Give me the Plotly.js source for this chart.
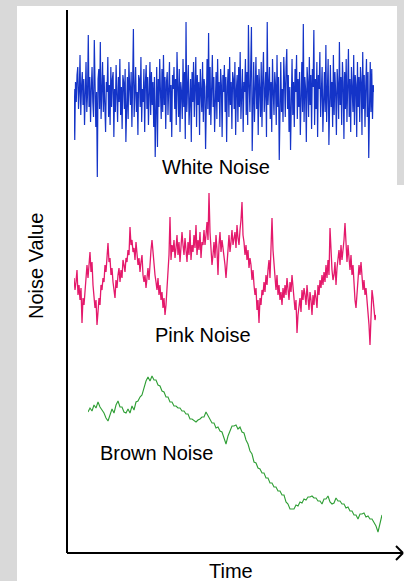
<!DOCTYPE html>
<html>
<head>
<meta charset="utf-8">
<script src="https://cdn.plot.ly/plotly-3.0.1.min.js"></script>
<style>html,body{margin:0;padding:0;background:#d9d9d9;}#chart{width:404px;height:581px;}</style>
</head>
<body>
<div id="chart"></div>
<script>
// ---- Data (noise values) ----
var whiteNoise = [
  8, -43, 15, -5, 22, 30, -12, 5, 42, -18, 10, 25, -8, 18, -28, 12, 35, -15, 3, 62,
  -10, 20, -25, 8, 30, -5, -20, 57, 12, -30, 5, -80, 18, 28, -12, 55, -22, 10, 35, -15,
  22, -8, -35, 15, 5, 40, -20, 12, -28, 30, -10, 18, 25, -40, 8, -15, 32, 2, -25, 20,
  -5, 38, -18, 10, -32, 22, 15, -12, 28, -45, 5, 20, -22, 35, 10, -8, 25, -30, 15, 68,
  -20, 12, 30, -15, 5, -38, 22, 18, -10, 40, -25, 8, -5, 28, -35, 15, 32, -12, 20, -28,
  10, 35, -18, 25, -8, 15, -30, 20, -60, 12, 30, -50, 18, -10, 38, 5, -22, 28, -15, 42,
  -8, 20, -32, 15, 25, -18, 5, 35, -25, 12, -40, 22, 8, 30, -12, 18, -28, 45, 10, -20,
  28, -35, 15, 5, -22, 38, -10, 25, -42, 75, -15, 20, 32, -28, 10, 18, -45, 25, -5, 35,
  -20, 12, 40, -30, 22, -8, 15, -38, 28, 5, -15, 35, -25, 18, 10, -52, 25, 38, -12, 64,
  -18, 30, -28, 15, 42, -10, 20, -35, 8, 25, -22, 38, -5, 15, -30, 28, 12, -40, 22, 5,
  32, -15, 20, -45, 10, 28, -20, 40, -8, 15, -32, 25, 18, -12, 35, -38, 8, 22, -25, 30,
  -10, 45, -22, 12, 28, -35, 15, 5, 38, -18, 25, -28, 72, 10, -15, 30, 70, -54, 20, 35,
  -25, 15, 40, -12, 22, -38, 28, 8, -20, 35, -30, 18, 45, -15, 10, 25, -40, 75, -8, 20,
  30, -22, 15, -35, 38, 5, -18, 25, 12, -28, 42, -10, 20, -63, 28, 35, -15, 8, -25, 40,
  15, -20, 30, 48, -12, 22, -35, 10, -53, 25, 38, -18, 15, -30, 28, 5, 42, -22, 18, -10,
  25, -38, 12, 35, -15, 73, -25, 20, 8, -45, 30, 15, -20, 40, -8, 22, -32, 28, 10, 67,
  -28, 18, -12, 35, -40, 22, 8, 45, -20, 15, 30, -35, 12, 25, -15, 52, -25, 10, 38, -48,
  20, 32, -10, 15, -30, 42, -18, 25, 5, -38, 28, 12, -22, 55, -8, 20, -28, 35, 15, -42,
  25, -12, 38, -25, 10, 48, -20, 18, -35, 30, 8, -15, 42, -28, 22, 12, -40, 35, -10, 20,
  -25, 30, 15, -38, 45, -12, 22, -30, 10, 38, -20, 25, -61, 18, 35, -15, 28, -22, 12, 5
];
var pinkNoise = [
  -8, -20, -12, 0, -25, -15, -30, -18, -53, -28,
  -35, -20, -10, 5, -8, 10, 18, -2, 8, -15,
  -25, -38, -30, -55, -42, -28, -35, -15, -20, -8,
  -12, 5, -2, 15, 27, 8, 12, -5, 2, -12,
  -20, -28, -10, -18, -5, 2, -12, 0, -8, 10,
  5, -2, 12, 8, 20, 15, 43, 25, 30, 18,
  22, 10, 28, 15, 5, 12, -2, 8, 15, -5,
  -12, -5, -18, -8, 2, -10, 12, 20, 30, 15,
  8, -5, -12, -20, -8, -25, -15, -30, -22, -38,
  -28, -45, -35, -20, -5, 15, 53, 10, 25, 18,
  30, 12, 22, 35, 15, 28, 8, 20, 38, 25,
  15, 32, 22, 8, 28, 15, 40, 10, 25, 18,
  35, 22, 45, 15, 30, 20, 38, 12, 28, 25,
  40, 25, 35, 48, 30, 77, 38, 20, 5, 15,
  28, 12, 35, 20, -5, 25, 38, 18, 30, 22,
  15, 5, -8, 12, 20, 35, 18, 28, 40, 25,
  30, 38, 22, 45, 32, 25, 40, 50, 68, 35,
  28, 15, 25, 10, 20, 2, 12, 5, -10, 0,
  -15, -25, -18, -40, -30, -53, -28, -35, -20, -25,
  -12, -22, -5, -15, 0, 10, -8, 15, 52, 20,
  5, -10, -20, -5, -25, -15, -30, -22, -35, -18,
  -28, -15, -25, -8, -20, -30, -12, -22, -5, -18,
  -25, -40, -30, -63, -45, -35, -28, -42, -20, -30,
  -18, -25, -35, -15, -28, -40, -22, -30, -45, -25,
  -35, -20, -28, -38, -15, -25, -10, -18, -5, -15,
  -2, -12, 5, -8, 10, -5, 42, 12, 0, -10,
  -5, 8, -15, 2, 12, 20, 5, 25, 10, 18,
  30, 47, 20, 8, 25, 12, 0, 15, -5, 5,
  -20, -30, -38, -18, -10, 5, -5, 8, -12, -20,
  -10, -25, -18, -30, -35, -55, -75, -42, -20, -28,
  -38, -50, -45
];
var brownNoise = [
  43, 47, 44, 50, 47, 53, 48, 45, 42, 37,
  34, 40, 46, 42, 50, 54, 48, 48, 43, 42,
  46, 42, 49, 45, 53, 54, 58, 60, 67, 74,
  78, 74, 79, 75, 75, 70, 69, 64, 63, 58,
  58, 53, 53, 49, 49, 47, 47, 44, 44, 41,
  41, 36, 36, 34, 33, 35, 36, 38, 38, 43,
  39, 36, 32, 32, 27, 28, 24, 23, 16, 11,
  19, 24, 29, 29, 30, 26, 28, 23, 22, 15,
  11, 4, 1, -7, -8, -13, -14, -18, -18, -23,
  -23, -28, -28, -32, -32, -36, -36, -40, -40, -47,
  -49, -54, -54, -54, -50, -51, -47, -48, -44, -45,
  -42, -42, -41, -43, -43, -46, -46, -49, -44, -44,
  -41, -47, -49, -48, -43, -46, -46, -49, -49, -53,
  -52, -56, -56, -60, -60, -64, -59, -59, -58, -62,
  -61, -64, -64, -68, -71, -77, -67, -60
];
var seriesLabels = ["White Noise", "Pink Noise", "Brown Noise"];
var xAxisLabel = "Time";
var yAxisLabel = "Noise Value";

// ---- Layout helpers (pixel -> paper) ----
var W = 404, H = 581;
function px(x) { return x / W; }
function py(y) { return 1 - y / H; }
function idx(arr) { return arr.map(function (_, i) { return i; }); }

var traces = [
  { x: idx(whiteNoise), y: whiteNoise, xaxis: 'x', yaxis: 'y', type: 'scatter', mode: 'lines',
    line: { color: '#1434c8', width: 1.2 }, hoverinfo: 'skip' },
  { x: idx(pinkNoise), y: pinkNoise, xaxis: 'x2', yaxis: 'y2', type: 'scatter', mode: 'lines',
    line: { color: '#e4196b', width: 1.3 }, hoverinfo: 'skip' },
  { x: idx(brownNoise), y: brownNoise, xaxis: 'x3', yaxis: 'y3', type: 'scatter', mode: 'lines',
    line: { color: '#2e9e34', width: 1.1 }, hoverinfo: 'skip' }
];

function hiddenAxis(domain, range, anchor) {
  return { domain: domain, range: range, visible: false, fixedrange: true, anchor: anchor };
}

var font = { family: 'Liberation Sans, Arial, sans-serif', size: 20, color: '#000' };

var layout = {
  width: W, height: H,
  margin: { l: 0, r: 0, t: 0, b: 0 },
  paper_bgcolor: '#d9d9d9',
  plot_bgcolor: 'rgba(0,0,0,0)',
  showlegend: false,
  xaxis: hiddenAxis([px(74), px(374)], [0, whiteNoise.length - 1], 'y'),
  yaxis: hiddenAxis([py(177), py(17)], [-80, 80], 'x'),
  xaxis2: hiddenAxis([px(74), px(376)], [0, pinkNoise.length - 1], 'y2'),
  yaxis2: hiddenAxis([py(350), py(190)], [-80, 80], 'x2'),
  xaxis3: hiddenAxis([px(88), px(382)], [0, brownNoise.length - 1], 'y3'),
  yaxis3: hiddenAxis([py(540), py(370)], [-85, 85], 'x3'),
  shapes: [
    { type: 'rect', xref: 'paper', yref: 'paper', x0: px(17), x1: 1, y0: 0, y1: py(6),
      fillcolor: '#ffffff', line: { width: 0 }, layer: 'below' },
    { type: 'rect', xref: 'paper', yref: 'paper', x0: px(397), x1: 1, y0: py(185), y1: py(6),
      fillcolor: '#d9d9d9', line: { width: 0 }, layer: 'below' },
    { type: 'line', xref: 'paper', yref: 'paper', x0: px(67), x1: px(67), y0: py(553), y1: py(10),
      line: { color: '#000', width: 2 } },
    { type: 'line', xref: 'paper', yref: 'paper', x0: px(67), x1: px(403), y0: py(553), y1: py(553),
      line: { color: '#000', width: 2 } },
    { type: 'line', xref: 'paper', yref: 'paper', x0: px(396), x1: px(403), y0: py(546), y1: py(553),
      line: { color: '#000', width: 2 } },
    { type: 'line', xref: 'paper', yref: 'paper', x0: px(396), x1: px(403), y0: py(560), y1: py(553),
      line: { color: '#000', width: 2 } }
  ],
  annotations: [
    { text: seriesLabels[0], xref: 'paper', yref: 'paper', x: px(216), y: py(167),
      showarrow: false, font: font, xanchor: 'center', yanchor: 'middle' },
    { text: seriesLabels[1], xref: 'paper', yref: 'paper', x: px(203), y: py(335),
      showarrow: false, font: font, xanchor: 'center', yanchor: 'middle' },
    { text: seriesLabels[2], xref: 'paper', yref: 'paper', x: px(156), y: py(453),
      showarrow: false, font: font, xanchor: 'center', yanchor: 'middle' },
    { text: xAxisLabel, xref: 'paper', yref: 'paper', x: px(231), y: py(571),
      showarrow: false, font: font, xanchor: 'center', yanchor: 'middle' },
    { text: yAxisLabel, xref: 'paper', yref: 'paper', x: px(36), y: py(266), textangle: -90,
      showarrow: false, font: font, xanchor: 'center', yanchor: 'middle' }
  ]
};

Plotly.newPlot('chart', traces, layout, { displayModeBar: false, staticPlot: true });
</script>
</body>
</html>
